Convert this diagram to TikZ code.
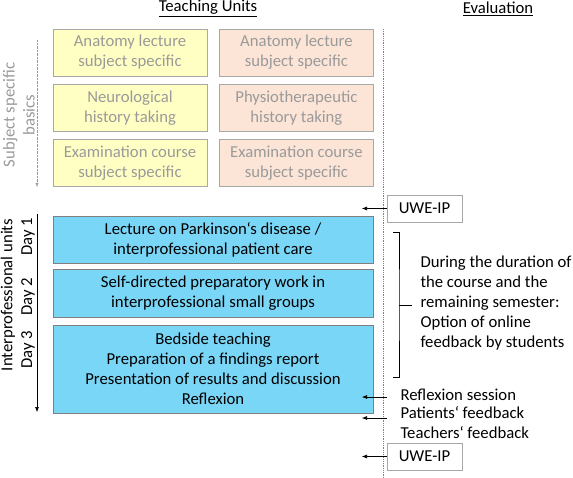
\documentclass[tikz,border=0pt]{standalone}
\usepackage{fontspec}
\setmainfont{Carlito}
\usepackage{tikz}
\usetikzlibrary{arrows.meta,positioning,calc}
\definecolor{PaleYellow}{HTML}{FFFFC4}
\definecolor{PalePink}{HTML}{FCE5D7}
\definecolor{SkyBlue}{HTML}{7AD6F7}
\definecolor{FadeGray}{HTML}{9A9A9A}
\definecolor{EdgeGray}{HTML}{A8A8A8}

\begin{document}
\begin{tikzpicture}[x=1pt,y=-1pt,
  font=\fontsize{16.7}{20}\selectfont,
  basic/.style={draw=EdgeGray,align=center,inner sep=2pt,minimum width=154pt,minimum height=47.5pt,text=FadeGray},
  unit/.style={draw=gray,fill=SkyBlue,align=center,inner sep=2pt,minimum width=320pt},
  evbox/.style={draw=EdgeGray,fill=white,minimum width=75pt,minimum height=27pt,inner sep=2pt},
  evarr/.style={-{Latex[length=5pt,width=4pt]},semithick},
  side/.style={rotate=90,align=center},
  header/.style={inner sep=0pt}
]
\useasboundingbox (0,0) rectangle (573,478);
% headers
\node[header] (teach) at (208,8.5) {\underline{Teaching Units}};
\node[header] (eval) at (498,8.5) {\underline{Evaluation}};
% subject specific basics
\node[basic,fill=PaleYellow] (ya) at (130,52.5) {Anatomy lecture\\subject specific};
\node[basic,fill=PaleYellow,below=7.5pt of ya] (yb) {Neurological\\history taking};
\node[basic,fill=PaleYellow,below=7pt of yb] (yc) {Examination course\\subject specific};
\node[basic,fill=PalePink,right=12pt of ya] (pa) {Anatomy lecture\\subject specific};
\node[basic,fill=PalePink,right=12pt of yb] (pb) {Physiotherapeutic\\history taking};
\node[basic,fill=PalePink,right=12pt of yc] (pc) {Examination course\\subject specific};
\coordinate (sa) at (37,40);
\coordinate (sb) at (37,187);
\draw[-{Latex[length=4pt,width=3pt]},FadeGray,densely dotted] (sa) -- (sb);
\node[side,text=FadeGray] (basics) at (19,115) {Subject specific\\basics};
% interprofessional units
\node[unit,minimum height=47pt] (day1) at (213,239.5) {Lecture on Parkinson‘s disease /\\interprofessional patient care};
\node[unit,minimum height=48pt,below=6pt of day1] (day2) {Self-directed preparatory work in\\interprofessional small groups};
\node[unit,minimum height=88pt,below=7pt of day2] (day3) {Bedside teaching\\Preparation of a findings report\\Presentation of results and discussion\\Reflexion};
\coordinate (ia) at (37,214);
\coordinate (ib) at (37,412);
\draw[-{Latex[length=5pt,width=4pt]},semithick] (ia) -- (ib);
\node[side] (interunits) at (8,295) {Interprofessional units};
\node[side] (d1) at (28,237) {Day 1};
\node[side] (d2) at (28,297) {Day 2};
\node[side] (d3) at (28,350) {Day 3};
% evaluation column
\coordinate (vtop) at (383,29);
\coordinate (vbot) at (383,478);
\draw[densely dotted,thick,gray] (vtop) -- (vbot);
\coordinate (tip) at (362,0);
\node[evbox] (uwe1) at (424.5,208.5) {UWE-IP};
\node[evbox] (uwe2) at (424.5,456.5) {UWE-IP};
\draw[evarr] (uwe1.west) -- (uwe1.west -| tip);
\draw[evarr] (uwe2.west) -- (uwe2.west -| tip);
\coordinate (bt) at (393,232);
\coordinate (bb) at (393,377);
\coordinate (bm) at (399,305);
\draw[semithick] (bt) -| (bm) |- (bb);
\node[anchor=west,align=left] (during) at (417,303.5) {During the duration of\\the course and the\\remaining semester:\\Option of online\\feedback by students};
\draw[semithick] (bm) -- ++(13,0);
\node[anchor=west] (refl) at (397,395) {Reflexion session};
\node[anchor=west] (pat) at (397,413) {Patients‘ feedback};
\node[anchor=west] (teachfb) at (397,433) {Teachers‘ feedback};
\coordinate (ra) at (387,397);
\coordinate (rb) at (387,418);
\draw[evarr] (ra) -- (ra -| tip);
\draw[evarr] (rb) -- (rb -| tip);
\end{tikzpicture}
\end{document}
